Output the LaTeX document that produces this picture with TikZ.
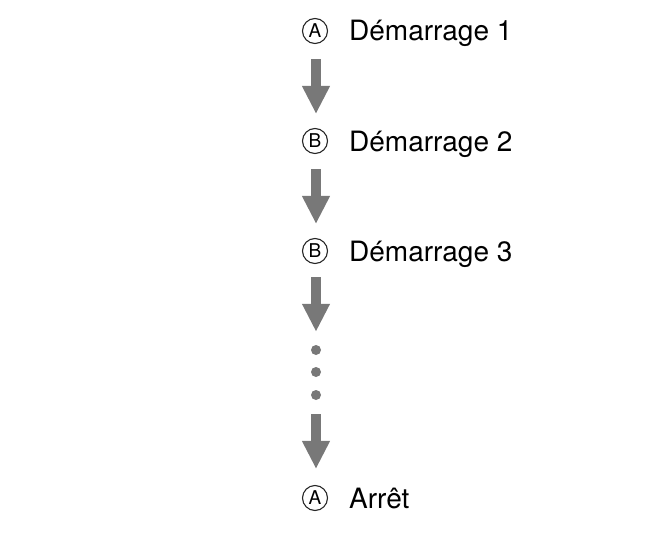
\documentclass[tikz,border=0pt]{standalone}
\usepackage{fontspec}
\setmainfont{TeX Gyre Heros}
\usetikzlibrary{arrows.meta}

\tikzset{
  lettre/.style={circle, draw=black!85, line width=1.1pt, inner sep=0pt,
    minimum size=25pt, font=\fontsize{19}{19}\selectfont},
  step text/.style={anchor=base west, inner sep=0pt, font=\fontsize{28}{28}\selectfont},
  big arrow/.style={draw=black!53, line width=10pt,
    -{Triangle[width=26pt,length=28pt]}},
  dot/.style={circle, fill=black!53, inner sep=0pt, minimum size=10pt}
}

\begin{document}
\begin{tikzpicture}[x=1pt,y=-1pt]
  \useasboundingbox (0,0) rectangle (667,535);
  % steps
  \node[lettre] (ca) at (315,31) {A};
  \node[step text] (ta) at (349,41) {Démarrage 1};
  \node[lettre] (cb) at (315,141) {B};
  \node[step text] (tb) at (349,151) {Démarrage 2};
  \node[lettre] (cc) at (315,251) {B};
  \node[step text] (tc) at (349,261) {Démarrage 3};
  \node[lettre] (cd) at (315,498) {A};
  \node[step text] (td) at (349,508) {Arrêt};
  % dots
  \node[dot] (d1) at (316,350) {};
  \node[dot] (d2) at (316,372) {};
  \node[dot] (d3) at (316,395) {};
  % arrows
  \draw[big arrow, shorten <=15pt, shorten >=14pt] ([xshift=1pt]ca.south) -- ([xshift=1pt]cb.north);
  \draw[big arrow, shorten <=15pt, shorten >=14pt] ([xshift=1pt]cb.south) -- ([xshift=1pt]cc.north);
  \draw[big arrow, shorten <=13pt, shorten >=13pt] ([xshift=1pt]cc.south) -- (d1.north);
  \draw[big arrow, shorten <=14pt, shorten >=16pt] (d3.south) -- ([xshift=1pt]cd.north);
\end{tikzpicture}
\end{document}
